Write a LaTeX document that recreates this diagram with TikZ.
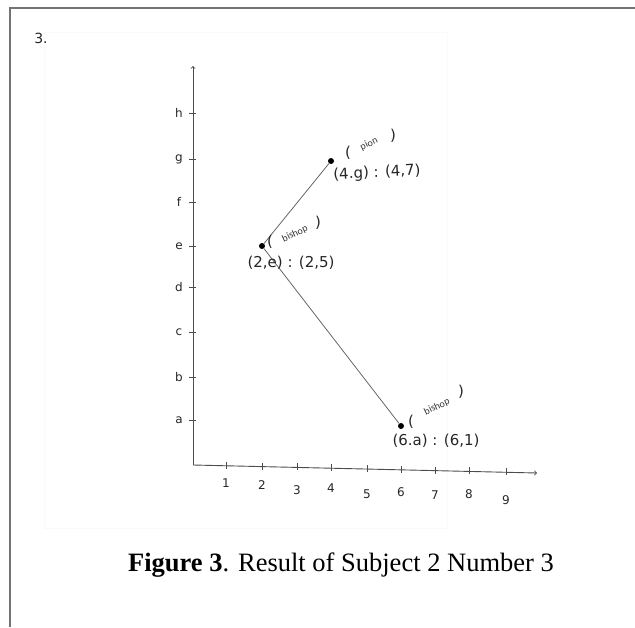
\documentclass[tikz,border=0pt]{standalone}
\usepackage{fontspec}
\setmainfont{Liberation Serif}
\newfontfamily\handfont{DejaVu Sans}
\newfontfamily\typefont{Carlito}
\usetikzlibrary{positioning}
\tikzset{
axis_line/.style={draw=black!70, line width=0.9pt, ->, >=to},
tick/.style={draw=black!70, line width=0.8pt},
piece/.style={circle, fill=black, inner sep=0pt, minimum size=6pt},
move/.style={draw=black!60, line width=0.8pt},
hand/.style={font=\handfont\fontsize{12}{12}\selectfont, text=black!85, inner sep=1pt},
position/.style={font=\handfont\fontsize{15}{15}\selectfont, text=black!85, inner sep=1pt},
paren/.style={font=\handfont\fontsize{15}{15}\selectfont, text=black!85, inner sep=0pt},
piece_name/.style={font=\typefont\fontsize{10}{10}\selectfont, text=black!80, rotate=25, inner sep=0pt},
caption/.style={font=\fontsize{26.5}{26.5}\selectfont}
}
\begin{document}
\begin{tikzpicture}[x=1pt,y=-1pt]
\useasboundingbox (0,0) rectangle (635,627);
% page frame and scanned area
\draw[black!55, line width=1.5pt] (635,8) -- (10,8) -- (10,627);
\draw[black!2] (44,32) rectangle (447,528);
\node[hand, font=\handfont\fontsize{14}{14}\selectfont] (number) at (41,38) {3.};
% axes
\coordinate (origin) at (193,465);
\coordinate (ytop) at (193,66);
\coordinate (xend) at (537,473);
\draw[axis_line] (origin) -- (ytop);
\draw[axis_line] (origin) -- (xend);
\foreach \lab/\y in {a/420,b/377,c/332,d/287,e/246,f/202,g/159,h/113}{
  \draw[tick] (189,\y) -- (196,\y);
  \node[hand] (y_\lab) at (179,\y) {\lab};
}
\foreach \n/\x/\t/\ly in {1/226/466/483,2/262/467/485,3/297/467/490,4/331/468/488,5/367/469/494,6/401/470/492,7/435/471/495,8/469/471/494,9/506/472/500}{
  \draw[tick] (\x,\t-4) -- (\x,\t+3);
  \node[hand] (x_\n) at (\x,\ly) {\n};
}
% pieces
\node[piece] (bishop_e) at (262,246) {};
\node[piece] (pion) at (331,161) {};
\node[piece] (bishop_a) at (401,426) {};
\draw[move] (pion) -- (bishop_e) -- (bishop_a);
% labels
\node[paren] (pion_l) at (348,153) {(};
\node[piece_name] (pion_name) at (369,144) {pion};
\node[paren] (pion_r) at (393,136) {)};
\node[position, rotate=3] (pion_pos) at (377,173) {(4.g) : (4,7)};
\node[paren] (bishop_e_l) at (270,242) {(};
\node[piece_name] (bishop_e_name) at (295,234) {bishop};
\node[paren] (bishop_e_r) at (318,223) {)};
\node[position] (bishop_e_pos) at (291,263) {(2,e) : (2,5)};
\node[paren] (bishop_a_l) at (411,422) {(};
\node[piece_name] (bishop_a_name) at (437,407) {bishop};
\node[paren] (bishop_a_r) at (461,392) {)};
\node[position] (bishop_a_pos) at (436,441) {(6.a) : (6,1)};
\node[caption] (fig_caption) at (341,565) {\textbf{Figure 3}. Result of Subject 2 Number 3};
\end{tikzpicture}
\end{document}
